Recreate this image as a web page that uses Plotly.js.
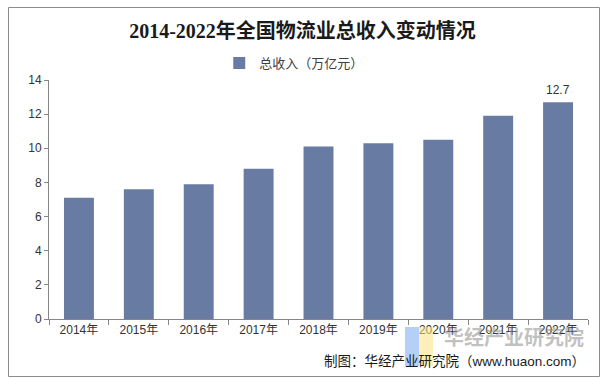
<!DOCTYPE html>
<html>
<head>
<meta charset="utf-8">
<script src="https://cdn.plot.ly/plotly-3.0.1.min.js"></script>
<style>
  html, body { margin: 0; padding: 0; background: #fff; }
  #chart { width: 605px; height: 384px; }
</style>
</head>
<body>
<div id="chart"></div>
<script>
const years = ["2014年", "2015年", "2016年", "2017年", "2018年", "2019年", "2020年", "2021年", "2022年"];
const revenue = [7.1, 7.6, 7.9, 8.8, 10.1, 10.3, 10.5, 11.9, 12.7];
const seriesName = "总收入（万亿元）";
const yTicks = [0, 2, 4, 6, 8, 10, 12, 14];
const chartTitle = "2014-2022年全国物流业总收入变动情况";
const creditText = "制图：华经产业研究院（www.huaon.com）";
const watermarkText = "华经产业研究院";

const sans = "Liberation Sans, Arial, Noto Sans CJK SC, sans-serif";
const axisColor = "#868686";
const last = years.length - 1;

const trace = {
  type: "bar",
  x: years,
  y: revenue,
  name: seriesName,
  marker: { color: "#687ca3" },
  showlegend: true,
  hoverinfo: "x+y"
};

const layout = {
  width: 605,
  height: 384,
  margin: { l: 49, r: 17, t: 80, b: 65, pad: 0 },
  paper_bgcolor: "#ffffff",
  plot_bgcolor: "#ffffff",
  bargap: 0.5,
  title: {
    text: "<b>" + chartTitle + "</b>",
    font: { family: "Liberation Serif, Noto Sans CJK SC, serif", size: 20, color: "#1a1a1a" },
    x: 0.5, xref: "container", xanchor: "center",
    y: 1 - 31 / 384, yref: "container", yanchor: "middle"
  },
  showlegend: true,
  legend: {
    orientation: "h",
    x: 0.455, xanchor: "center",
    y: 1.071, yanchor: "middle",
    font: { family: sans, size: 13, color: "#404040" },
    itemwidth: 30,
    bgcolor: "rgba(0,0,0,0)"
  },
  xaxis: {
    type: "category",
    showgrid: false,
    showline: true,
    linecolor: axisColor,
    linewidth: 1,
    ticks: "outside",
    tickson: "boundaries",
    ticklen: 5,
    tickcolor: axisColor,
    tickfont: { family: sans, size: 12, color: "#333333" },
    zeroline: false
  },
  yaxis: {
    range: [0, 14],
    tickvals: yTicks,
    showgrid: false,
    showline: true,
    linecolor: axisColor,
    linewidth: 1,
    ticks: "outside",
    ticklen: 4,
    tickcolor: axisColor,
    tickfont: { family: sans, size: 12, color: "#333333" },
    zeroline: false,
    fixedrange: true
  },
  shapes: [
    {
      type: "rect", xref: "paper", yref: "paper",
      x0: (8.5 - 49) / 539, x1: (599.5 - 49) / 539,
      y0: (319 - 376.5) / 239, y1: (319 - 7.5) / 239,
      line: { color: "#8c8c8c", width: 1 },
      fillcolor: "rgba(0,0,0,0)",
      layer: "below"
    },
    {
      type: "rect", xref: "paper", yref: "paper",
      x0: (405 - 49) / 539, x1: (419 - 49) / 539,
      y0: (319 - 366) / 239, y1: (319 - 327) / 239,
      line: { width: 0 },
      fillcolor: "rgba(120,170,240,0.55)",
      layer: "above"
    },
    {
      type: "rect", xref: "paper", yref: "paper",
      x0: (419 - 49) / 539, x1: (433 - 49) / 539,
      y0: (319 - 366) / 239, y1: (319 - 327) / 239,
      line: { width: 0 },
      fillcolor: "rgba(250,225,130,0.55)",
      layer: "above"
    }
  ],
  annotations: [
    {
      x: years[last], y: revenue[last],
      xref: "x", yref: "y",
      text: String(revenue[last]),
      showarrow: false,
      yanchor: "bottom",
      yshift: 3,
      font: { family: sans, size: 12, color: "#333333" }
    },
    {
      xref: "paper", yref: "paper",
      x: (514 - 49) / 539, y: (319 - 336) / 239,
      xanchor: "center", yanchor: "middle",
      text: "<b>" + watermarkText + "</b>",
      showarrow: false,
      font: { family: "Noto Sans CJK SC, sans-serif", size: 20, color: "rgba(140,140,140,0.55)" }
    },
    {
      xref: "paper", yref: "paper",
      x: (587 - 49) / 539, y: (319 - 361.5) / 239,
      xanchor: "right", yanchor: "middle",
      text: creditText,
      showarrow: false,
      font: { family: sans, size: 13.5, color: "#1a1a1a" }
    }
  ]
};

Plotly.newPlot("chart", [trace], layout, { displayModeBar: false, staticPlot: true });
</script>
</body>
</html>
